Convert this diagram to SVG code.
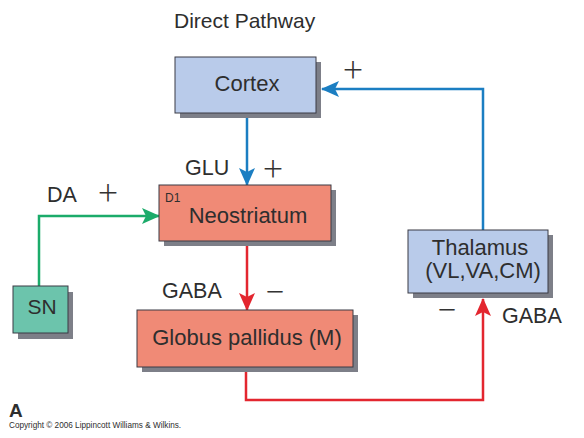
<svg xmlns="http://www.w3.org/2000/svg" width="584" height="438" viewBox="0 0 584 438">
<style>
text{font-family:"Liberation Sans",Arial,sans-serif;fill:#2e2e2e}
.lbl{font-size:21.5px}
.nt{font-size:22px;text-anchor:middle}
.sg{font-family:"Noto Sans CJK JP","Liberation Sans",sans-serif;text-anchor:middle;fill:#333}
.pl{font-size:23px}
.mi{font-size:21px}
.sh{fill:#7d7f88}
.box{stroke:#3a3a44;stroke-width:1}
.blue{fill:#b9cbea}
.red{fill:#f08a76}
.teal{fill:#6cc4ac}
.c{fill:none;stroke-width:2.5}
</style>
<defs>
<marker id="ab" viewBox="0 0 18 16" refX="17" refY="8" markerWidth="18" markerHeight="16" markerUnits="userSpaceOnUse" orient="auto"><path d="M0,0 L18,8 L0,16 L4,8 Z" fill="#1b7ec2"/></marker>
<marker id="ar" viewBox="0 0 18 16" refX="17" refY="8" markerWidth="18" markerHeight="16" markerUnits="userSpaceOnUse" orient="auto"><path d="M0,0 L18,8 L0,16 L4,8 Z" fill="#e3262f"/></marker>
<marker id="ag" viewBox="0 0 18 16" refX="17" refY="8" markerWidth="18" markerHeight="16" markerUnits="userSpaceOnUse" orient="auto"><path d="M0,0 L18,8 L0,16 L4,8 Z" fill="#1bab6a"/></marker>
</defs>
<rect width="584" height="438" fill="#fff"/>
<text x="174" y="28" style="font-size:21px">Direct Pathway</text>
<g id="connectors">
<path class="c" stroke="#1b7ec2" d="M247,118 V185" marker-end="url(#ab)"/>
<path class="c" stroke="#1b7ec2" d="M483,230 V89 H322" marker-end="url(#ab)"/>
<path class="c" stroke="#1bab6a" d="M39,286 V216 H159" marker-end="url(#ag)"/>
<path class="c" stroke="#e3262f" d="M247,246 V310" marker-end="url(#ar)"/>
<path class="c" stroke="#e3262f" d="M246,372 V400 H483 V299" marker-end="url(#ar)"/>
</g>
<g id="cortex">
<rect class="sh" x="180" y="62" width="141" height="56"/>
<rect class="box blue" x="175" y="57" width="141" height="56"/>
<text class="nt" x="247" y="91">Cortex</text>
</g>
<g id="neostriatum">
<rect class="sh" x="164" y="190" width="172" height="56"/>
<rect class="box red" x="159" y="185" width="172" height="56"/>
<text x="165" y="202" style="font-size:12px">D1</text>
<text class="nt" x="248" y="223">Neostriatum</text>
</g>
<g id="sn">
<rect class="sh" x="18" y="292" width="55" height="47"/>
<rect class="box teal" x="13" y="286" width="55" height="47"/>
<text class="nt" x="42" y="314" style="font-size:21px">SN</text>
</g>
<g id="globus">
<rect class="sh" x="142" y="315" width="216" height="57"/>
<rect class="box red" x="137" y="310" width="216" height="57"/>
<text class="nt" x="247" y="345">Globus pallidus (M)</text>
</g>
<g id="thalamus">
<rect class="sh" x="413" y="235" width="140" height="63"/>
<rect class="box blue" x="408" y="230" width="140" height="63"/>
<text class="nt" x="480" y="255">Thalamus</text>
<text class="nt" x="483" y="278">(VL,VA,CM)</text>
</g>
<g id="labels">
<text class="lbl" x="185" y="175">GLU</text>
<text class="sg pl" x="273" y="177">＋</text>
<text class="lbl" x="47" y="202">DA</text>
<text class="sg pl" x="108" y="201">＋</text>
<text class="sg pl" x="353" y="78">＋</text>
<text class="lbl" x="162" y="298">GABA</text>
<text class="sg mi" x="275" y="299">－</text>
<text class="sg mi" x="447" y="317">－</text>
<text class="lbl" x="502" y="323">GABA</text>
<text x="9" y="417" style="font-size:19px;font-weight:bold">A</text>
<text x="9" y="428" style="font-size:8.2px">Copyright © 2006 Lippincott Williams &amp; Wilkins.</text>
</g>
</svg>
